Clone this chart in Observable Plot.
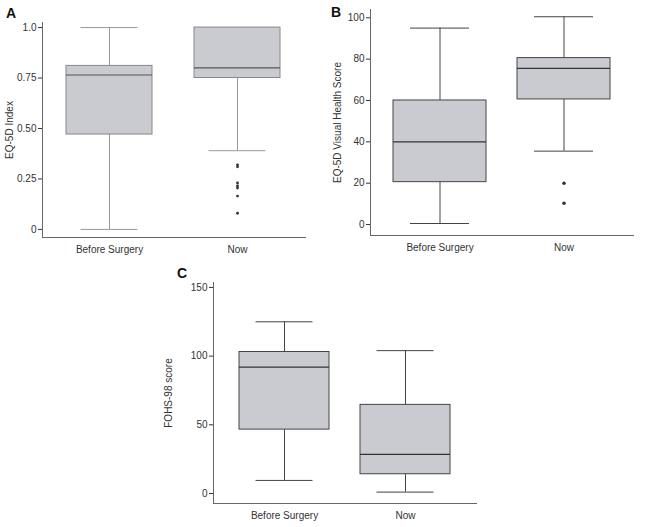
<!DOCTYPE html>
<html>
<head>
<meta charset="utf-8">
<script src="https://cdn.jsdelivr.net/npm/d3@7"></script>
<script src="https://cdn.jsdelivr.net/npm/@observablehq/plot@0.6"></script>
<style>
  body { margin: 0; background: #fff; }
  #wrap { position: relative; width: 645px; height: 527px; font-family: "Liberation Sans", Arial, sans-serif; }
  .panel { position: absolute; }
  .letter { position: absolute; font-weight: bold; font-size: 14px; color: #111; font-family: "Liberation Sans", Arial, sans-serif; }
</style>
</head>
<body>
<div id="wrap"></div>
<script>
// ---- categories ----
const groups = ["Before Surgery", "Now"];

// ---- Panel A: EQ-5D Index ----
const aLow = [0, 0.39];
const aQ1 = [0.47, 0.75];
const aMedian = [0.765, 0.80];
const aQ3 = [0.81, 1.0];
const aHigh = [1.0, 1.0];
const aOutliers = [0.32, 0.31, 0.23, 0.215, 0.205, 0.165, 0.08]; // "Now"
const aTicks = [0, 0.25, 0.5, 0.75, 1.0];
const aTickLabels = ["0", "0.25", "0.50", "0.75", "1.0"];

// ---- Panel B: EQ-5D Visual Health Score ----
const bLow = [0.5, 35.5];
const bQ1 = [20.5, 60.5];
const bMedian = [40, 75.5];
const bQ3 = [60, 80.5];
const bHigh = [95, 100.5];
const bOutliers = [20, 10.3]; // "Now"
const bTicks = [0, 20, 40, 60, 80, 100];
const bTickLabels = ["0", "20", "40", "60", "80", "100"];

// ---- Panel C: FOHS-98 score ----
const cLow = [9.5, 1];
const cQ1 = [46.5, 14];
const cMedian = [92, 28.5];
const cQ3 = [103, 64.5];
const cHigh = [125, 104];
const cOutliers = [];
const cTicks = [0, 50, 100, 150];
const cTickLabels = ["0", "50", "100", "150"];

function stats(low, q1, med, q3, high) {
  return groups.map((g, i) => ({group: g, low: low[i], q1: q1[i], median: med[i], q3: q3[i], high: high[i]}));
}

function panel(o) {
  const data = stats(o.low, o.q1, o.median, o.q3, o.high);
  const outs = o.outliers.map(v => ({group: "Now", value: v}));
  const chart = Plot.plot({
    width: o.width, height: o.height,
    marginLeft: o.ml, marginRight: o.mr, marginTop: o.mt, marginBottom: o.mb,
    style: {fontFamily: '"Liberation Sans", Arial, sans-serif', fontSize: "10px", color: "#333", background: "transparent"},
    x: {domain: groups, paddingInner: o.pi, paddingOuter: o.po},
    y: {domain: o.domain},
    marks: [
      Plot.ruleX(data, {x: "group", y1: "low", y2: "q1", stroke: o.whisker, strokeWidth: 1}),
      Plot.ruleX(data, {x: "group", y1: "q3", y2: "high", stroke: o.whisker, strokeWidth: 1}),
      Plot.tickY(data, {x: "group", y: "low", stroke: o.whisker, insetLeft: o.cap, insetRight: o.cap}),
      Plot.tickY(data, {x: "group", y: "high", stroke: o.whisker, insetLeft: o.cap, insetRight: o.cap}),
      Plot.barY(data, {x: "group", y1: "q1", y2: "q3", fill: "#c9cbd1", stroke: o.boxStroke, strokeWidth: 1}),
      Plot.tickY(data, {x: "group", y: "median", stroke: o.medianStroke, strokeWidth: 1.2}),
      Plot.dot(outs, {x: "group", y: "value", r: o.r, fill: "#333", stroke: "none"}),
      Plot.frame({anchor: "left", stroke: "#666"}),
      Plot.frame({anchor: "bottom", stroke: "#666"}),
      Plot.axisX({tickSize: 0, tickPadding: 8, label: null, fontSize: 10}),
      Plot.axisY({ticks: o.ticks, tickFormat: (d) => o.tickLabels[o.ticks.indexOf(d)], tickSize: 4, tickPadding: 2,
        label: o.label, labelAnchor: "center", labelArrow: "none", labelOffset: o.labelOffset, fontSize: 10})
    ]
  });
  const div = document.createElement("div");
  div.className = "panel";
  div.style.left = o.left + "px";
  div.style.top = o.top + "px";
  div.appendChild(chart);
  document.getElementById("wrap").appendChild(div);
  const L = document.createElement("div");
  L.className = "letter";
  L.textContent = o.letter;
  L.style.left = o.lx + "px";
  L.style.top = o.ly + "px";
  document.getElementById("wrap").appendChild(L);
}

panel({
  letter: "A", lx: 6, ly: 5,
  left: 0, top: 0, width: 320, height: 260, ml: 42, mr: 15, mt: 22, mb: 23,
  pi: 0.326, po: 0.183, cap: 14.5, domain: [-0.04, 1.025],
  low: aLow, q1: aQ1, median: aMedian, q3: aQ3, high: aHigh, outliers: aOutliers,
  ticks: aTicks, tickLabels: aTickLabels, label: "EQ-5D Index", labelOffset: 37,
  whisker: "#999", boxStroke: "#888", medianStroke: "#555", r: 1.4
});

panel({
  letter: "B", lx: 331, ly: 4,
  left: 320, top: 0, width: 325, height: 260, ml: 50, mr: 12, mt: 9, mb: 25,
  pi: 0.25, po: 0.185, cap: 17, domain: [-5.3, 104],
  low: bLow, q1: bQ1, median: bMedian, q3: bQ3, high: bHigh, outliers: bOutliers,
  ticks: bTicks, tickLabels: bTickLabels, label: "EQ-5D Visual Health Score", labelOffset: 37,
  whisker: "#444", boxStroke: "#444", medianStroke: "#333", r: 1.8
});

panel({
  letter: "C", lx: 177, ly: 265,
  left: 150, top: 260, width: 340, height: 267, ml: 63, mr: 14, mt: 22, mb: 24,
  pi: 0.254, po: 0.205, cap: 16.5, domain: [-7.3, 153.6],
  low: cLow, q1: cQ1, median: cMedian, q3: cQ3, high: cHigh, outliers: cOutliers,
  ticks: cTicks, tickLabels: cTickLabels, label: "FOHS-98 score", labelOffset: 49,
  whisker: "#444", boxStroke: "#444", medianStroke: "#333", r: 1.8
});
</script>
</body>
</html>
